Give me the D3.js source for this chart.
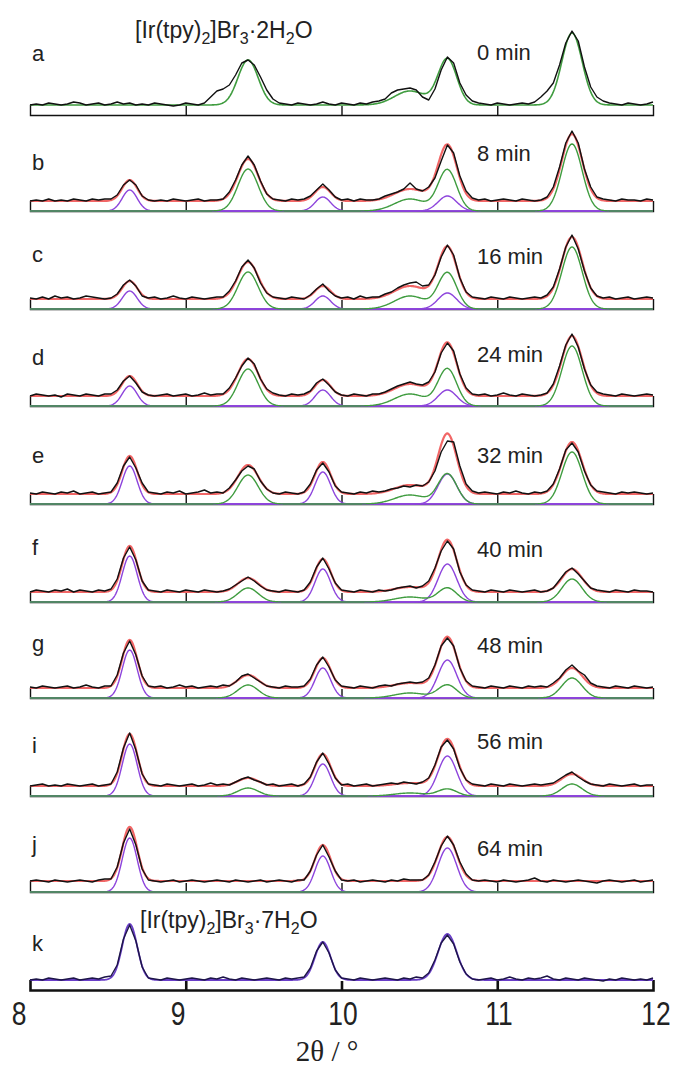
<!DOCTYPE html>
<html>
<head>
<meta charset="utf-8">
<script src="https://cdn.jsdelivr.net/npm/d3@7"></script>
<style>
  body { margin: 0; background: #fff; }
  svg { display: block; }
  text { font-family: "Liberation Sans", Arial, sans-serif; fill: #222; }
</style>
</head>
<body>
<div id="chart"></div>
<script>
// 2theta grid of the measured patterns (8 -> 12, step 0.04)
var twoTheta = d3.range(101).map(function(i) { return +(8 + 0.04 * i).toFixed(2); });

var panelLetters = ["a", "b", "c", "d", "e", "f", "g", "i", "j", "k"];
var timeLabels = ["0 min", "8 min", "16 min", "24 min", "32 min", "40 min", "48 min", "56 min", "64 min", ""];

// fitted background level per panel
var background = [10, 10, 10, 10, 10, 10, 10, 10, 11, 10];
// panels where the red total fit is drawn (a and k are single-phase)
var showTotal = [false, true, true, true, true, true, true, true, true, false];

// 2H2O phase peaks (green): centre, sigma
var greenCentres = [9.40, 10.44, 10.68, 11.48];
var greenSigmas = [0.065, 0.10, 0.06, 0.065];
// 7H2O phase peaks (purple): centre, sigma
var purpleCentres = [8.64, 9.88, 10.68];
var purpleSigmas = [0.048, 0.05, 0.06];

// fitted peak heights per panel
var greenHeights = [
  [45, 14, 46, 72],
  [42, 12, 41, 67],
  [37, 13, 36, 62],
  [37, 12, 37, 60],
  [29, 9, 30, 52],
  [14, 5, 14, 23],
  [13, 5, 13, 20],
  [8, 3, 7, 12],
  [0, 0, 0, 0],
  [0, 0, 0, 0]
];
var purpleHeights = [
  [0, 0, 0],
  [21, 14, 15],
  [18, 13, 16],
  [20, 16, 16],
  [38, 32, 30],
  [46, 33, 38],
  [48, 30, 38],
  [52, 32, 40],
  [54, 36, 44],
  [56, 38, 46]
];

// measured intensities
var obsA = [10,11,10,12,11,10,11,13,12,10,11,12,10,11,13,11,12,10,11,10,12,11,10,9,10,12,11,10,12,
  18,24,26,30,40,52,55,50,38,25,16,12,11,
  10,12,11,10,11,13,11,10,12,11,10,12,11,13,
  14,16,22,25,26,27,25,18,15,26,45,58,52,32,20,14,12,
  11,10,12,11,10,11,12,11,
  13,18,24,32,50,72,84,74,48,28,18,14,12,
  11,10,12,11,10,11,13];
var obsB = [10,11,10,12,10,11,10,12,11,10,12,11,12,
  12,16,26,31,26,15,11,
  10,11,10,12,11,10,11,12,10,11,
  11,12,19,31,46,55,46,30,17,12,11,
  10,12,11,
  12,15,21,27,21,14,11,
  12,10,12,11,11,
  12,15,17,19,22,28,22,20,24,33,50,66,58,35,20,13,
  11,12,10,11,12,11,10,12,11,10,
  11,14,24,44,68,80,68,42,24,14,12,
  11,10,12,11,11,10,12,11];
var obsC = [11,10,12,10,13,11,12,10,11,13,12,11,10,
  11,15,24,29,23,13,11,
  12,10,11,13,11,10,12,11,10,11,12,
  12,18,28,42,49,41,26,16,12,
  11,10,12,11,10,
  14,20,25,18,13,
  11,12,10,13,11,12,
  12,15,17,21,24,26,27,23,24,34,52,64,54,31,17,12,
  11,10,12,11,10,12,11,10,11,12,11,
  14,22,40,62,74,60,38,21,13,
  11,12,10,11,12,10,11,12,11];
var obsD = [10,12,11,10,11,9,12,11,10,12,11,10,12,
  12,16,25,30,23,14,11,
  10,11,12,10,11,12,10,11,13,11,12,
  12,18,28,40,48,42,27,17,13,
  11,10,12,11,
  12,15,23,27,21,14,11,
  10,12,11,10,12,
  12,14,17,20,22,24,22,21,24,34,53,63,55,32,18,12,
  11,12,10,11,13,11,10,12,11,10,11,
  13,22,40,61,72,59,37,21,14,
  12,11,10,12,11,10,11,12,11];
var obsE = [11,10,12,11,10,12,11,13,10,11,12,10,11,
  12,21,38,47,36,21,12,
  11,10,12,11,13,10,11,12,14,11,12,
  11,16,24,33,38,35,23,15,11,
  10,12,11,10,
  12,20,34,41,32,18,12,
  11,10,12,11,13,
  12,13,15,16,18,17,19,18,22,33,52,63,62,38,20,13,
  11,12,11,10,12,11,13,11,10,12,11,
  13,20,35,54,61,52,33,19,13,
  12,11,10,12,11,12,11,10,11];
var obsF = [10,12,11,10,12,11,13,10,12,11,10,12,11,
  13,23,44,55,42,21,12,
  11,10,12,11,10,12,11,10,12,11,10,11,
  13,17,21,25,21,16,12,
  11,10,12,11,10,
  12,20,35,44,33,19,12,
  11,10,12,11,10,12,11,
  12,14,15,16,14,16,21,34,51,61,53,30,17,12,
  11,10,12,11,10,12,11,10,11,12,10,11,
  14,22,30,34,28,21,14,12,
  11,10,12,11,10,12,11,11,10];
var obsG = [11,10,12,11,10,11,12,10,11,13,11,10,12,
  12,23,45,57,43,22,12,
  11,12,10,11,13,11,12,10,11,12,11,13,
  12,16,22,24,20,16,12,
  11,10,12,11,11,
  12,19,33,41,31,18,12,
  11,10,12,11,10,12,13,
  12,14,15,16,15,16,20,33,52,60,52,30,17,12,
  11,10,12,11,10,12,11,10,12,11,12,11,
  15,20,28,33,27,23,15,12,
  11,10,12,11,10,12,11,10,11];
var obsI = [10,11,12,10,11,10,12,11,10,11,12,10,11,
  12,24,48,63,46,22,12,
  11,10,12,11,10,11,12,10,11,13,11,12,11,
  14,17,19,16,14,
  11,12,10,11,12,10,12,
  19,34,43,32,18,
  11,12,10,11,12,10,11,12,13,12,14,13,12,14,
  18,31,49,56,47,28,16,
  12,11,10,12,11,10,12,11,10,11,12,11,12,13,
  17,21,24,19,15,
  12,11,10,12,11,10,11,12,10,11,11];
var obsJ = [11,12,11,10,12,11,10,11,12,11,10,12,13,
  13,25,49,63,47,23,12,
  11,10,11,12,10,11,12,11,10,11,12,11,10,12,11,10,11,12,10,11,12,11,10,12,
  12,21,37,47,35,21,12,
  11,12,10,11,12,11,10,12,11,13,12,12,
  12,17,30,46,56,47,30,18,12,
  11,12,11,10,12,11,10,11,12,14,11,10,12,11,10,11,12,11,10,9,11,12,11,10,11,12,10,11,12];
var obsK = [10,11,10,12,11,10,11,12,10,11,12,11,13,
  14,25,51,65,49,23,12,
  11,10,12,11,10,11,12,11,10,12,11,13,11,10,12,11,10,11,12,11,10,12,11,12,
  13,22,39,48,37,20,12,
  11,10,12,11,10,11,12,11,10,12,11,13,
  12,17,30,47,55,46,28,16,11,
  10,11,12,10,11,13,11,10,12,11,12,14,11,10,12,11,10,12,11,10,9,11,10,12,11,10,11,10,12];
var observed = [obsA, obsB, obsC, obsD, obsE, obsF, obsG, obsI, obsJ, obsK];

var xTickLabels = [8, 9, 10, 11, 12];

// layout: y of each panel's zero line and text baselines
var panelBase = [115, 211, 309, 406, 504, 602, 698, 796, 892, 990];
var letterY = [61, 170, 262, 365, 463, 555, 651, 753, 852, 951];
var timeY = [60, 161, 264, 362, 463, 557, 653, 749, 856, 0];
var tickLabelX = [19, 178, 343, 499, 656];

var width = 674, height = 1066;
var svg = d3.select("#chart").append("svg")
  .attr("width", width)
  .attr("height", height);

var x = d3.scaleLinear().domain([8, 12]).range([30, 653]);
var fine = d3.range(8, 12.0001, 0.005);

function gauss(t, c, s, h) {
  return h * Math.exp(-(t - c) * (t - c) / (2 * s * s));
}

var colors = {
  black: "#111",
  red: "#f05555",
  green: "#3f9c3f",
  purple: "#8d44dc",
  navy: "#3a2a88"
};

panelLetters.forEach(function(letter, p) {
  var base = panelBase[p];
  var y = d3.scaleLinear().domain([0, 100]).range([base, base - 100]);
  var g = svg.append("g").attr("class", "panel");
  var bg = background[p];
  var line = d3.line()
    .x(function(d) { return x(d[0]); })
    .y(function(d) { return y(d[1]); });

  var hasGreen = d3.sum(greenHeights[p]) > 0;
  var hasPurple = d3.sum(purpleHeights[p]) > 0;
  var total = showTotal[p];

  // axis frame: bottom line, end posts, ticks at 9, 10, 11
  var axis = d3.axisTop(x)
    .tickValues([9, 10, 11])
    .tickSizeInner(9)
    .tickSizeOuter(y(0) - y(bg))
    .tickFormat("");
  var ax = g.append("g")
    .attr("transform", "translate(0," + base + ")")
    .call(axis);
  ax.selectAll("path, line")
    .attr("stroke", colors.black)
    .attr("stroke-width", p === 9 ? 2.6 : 1.4);

  function sumCurve(centres, sigmas, heights, offset) {
    return fine.map(function(t) {
      var v = offset;
      centres.forEach(function(c, k) { v += gauss(t, c, sigmas[k], heights[k]); });
      return [t, v];
    });
  }

  var purpleCol = p === 9 ? colors.navy : colors.purple;

  if (total) {
    // components drawn from zero
    purpleCentres.forEach(function(c, k) {
      var pts = fine.map(function(t) { return [t, gauss(t, c, purpleSigmas[k], purpleHeights[p][k])]; });
      g.append("path").attr("d", line(pts))
        .attr("fill", "none").attr("stroke", purpleCol).attr("stroke-width", 1.4);
    });
    g.append("path").attr("d", line(sumCurve(greenCentres, greenSigmas, greenHeights[p], 0)))
      .attr("fill", "none").attr("stroke", colors.green).attr("stroke-width", 1.4);

    var tpts = fine.map(function(t) {
      var v = bg;
      greenCentres.forEach(function(c, k) { v += gauss(t, c, greenSigmas[k], greenHeights[p][k]); });
      purpleCentres.forEach(function(c, k) { v += gauss(t, c, purpleSigmas[k], purpleHeights[p][k]); });
      return [t, v];
    });
    g.append("path").attr("d", line(tpts))
      .attr("fill", "none").attr("stroke", colors.red).attr("stroke-width", 2.2)
      .attr("stroke-opacity", 0.9);
  } else if (hasGreen) {
    g.append("path").attr("d", line(sumCurve(greenCentres, greenSigmas, greenHeights[p], bg)))
      .attr("fill", "none").attr("stroke", colors.green).attr("stroke-width", 1.6);
  } else if (hasPurple) {
    g.append("path").attr("d", line(sumCurve(purpleCentres, purpleSigmas, purpleHeights[p], bg)))
      .attr("fill", "none").attr("stroke", "#6a3fc8").attr("stroke-width", 1.8);
  }

  // measured pattern
  var obs = observed[p].map(function(v, i) { return [twoTheta[i], v]; });
  g.append("path").attr("d", line(obs))
    .attr("fill", "none").attr("stroke", p === 9 ? "#1d1548" : colors.black)
    .attr("stroke-width", 1.4).attr("stroke-linejoin", "round");

  // labels
  g.append("text")
    .attr("x", 32).attr("y", letterY[p])
    .style("font-size", "22px")
    .text(letter);
  if (timeLabels[p]) {
    g.append("text")
      .attr("x", 477).attr("y", timeY[p])
      .style("font-size", "22px")
      .text(timeLabels[p]);
  }
});

// compound names
function formula(xp, yp, water) {
  var t = svg.append("text").attr("x", xp).attr("y", yp).style("font-size", "23px");
  var parts = [["[Ir(tpy)", 0], ["2", 1], ["]Br", 0], ["3", 1], ["\u00b7" + water + "H", 0], ["2", 1], ["O", 0]];
  var sub = false;
  parts.forEach(function(part) {
    var s = t.append("tspan").text(part[0]);
    if (part[1]) {
      s.attr("dy", 6).style("font-size", "16px");
      sub = true;
    } else if (sub) {
      s.attr("dy", -6);
      sub = false;
    }
  });
}
formula(135, 38, "2");
formula(140, 928, "7");

// bottom tick labels (narrow, tall digits)
svg.append("g").selectAll("text")
  .data(xTickLabels)
  .join("text")
  .attr("transform", function(d, i) { return "translate(" + tickLabelX[i] + ",1025) scale(0.8,1)"; })
  .attr("text-anchor", "middle")
  .style("font-size", "33px")
  .text(function(d) { return d3.format("d")(d); });

svg.append("text")
  .attr("transform", "translate(327,1061)")
  .attr("text-anchor", "middle")
  .style("font-family", "'Liberation Serif', 'Times New Roman', serif")
  .style("font-size", "29px")
  .text("2\u03b8 / \u00b0");
</script>
</body>
</html>
